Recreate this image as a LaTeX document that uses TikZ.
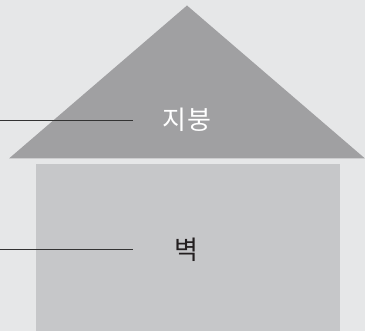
\documentclass[tikz,border=0pt]{standalone}
\usepackage{fontspec}
\newfontfamily\kr{Noto Sans CJK KR}
\definecolor{bg}{HTML}{E6E7E8}
\definecolor{roofc}{HTML}{A0A0A2}
\definecolor{wallc}{HTML}{C6C7C9}
\definecolor{inkc}{HTML}{231F20}
\definecolor{linec}{HTML}{333333}
\begin{document}
\begin{tikzpicture}[x=1pt,y=-1pt,
  lbl/.style={font=\kr\fontsize{26}{26}\selectfont, inner sep=0pt, anchor=center},
  leader/.style={draw=linec, line width=1pt}]
\fill[bg] (0,0) rectangle (365,331);
\useasboundingbox (0,0) rectangle (365,331);
\fill[roofc] (187,5.5) -- (9,158.5) -- (365,158.5) -- cycle;
\fill[wallc] (36,164) rectangle (340,331);
\node[lbl, text=white] (roof) at (187,119.5) {지\kern2pt붕};
\node[lbl, text=inkc] (wall) at (186.5,250) {벽};
\coordinate (r0) at (0,121);
\coordinate (r1) at (133,121);
\coordinate (w0) at (0,250);
\coordinate (w1) at (133,250);
\draw[leader] (r0) -- (r1);
\draw[leader] (w0) -- (w1);
\end{tikzpicture}
\end{document}
